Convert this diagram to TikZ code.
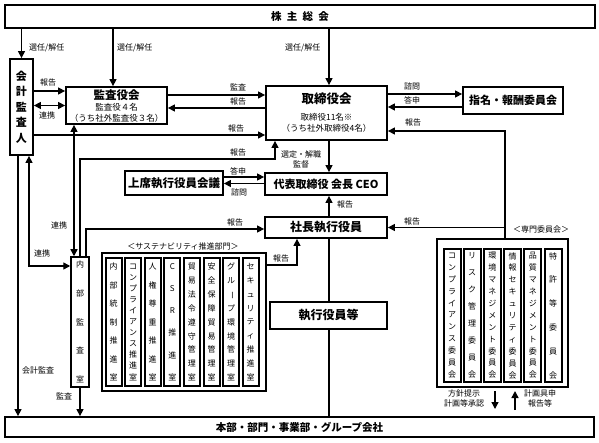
\documentclass[tikz,border=0pt]{standalone}
\usepackage{fontspec}
\setmainfont{Noto Sans CJK JP}
\usetikzlibrary{arrows.meta}
\begin{document}
\begin{tikzpicture}[x=1pt,y=-1pt,
  box/.style={draw, line width=1.8pt, inner sep=0pt, align=center, font=\bfseries\fontsize{11}{12}\selectfont},
  cont/.style={draw, line width=1.2pt, inner sep=0pt},
  col/.style={draw, line width=2pt, inner sep=0pt, align=center},
  colS/.style={col, minimum width=16pt, minimum height=128pt, font=\fontsize{8}{#1}\selectfont},
  colC/.style={col, minimum width=17pt, minimum height=133pt, font=\fontsize{8}{#1}\selectfont},
  lab/.style={inner sep=0pt, align=center, font=\fontsize{8}{10}\selectfont},
  arr/.style={line width=1.4pt, -{Triangle[length=7pt,width=7pt]}},
  darr/.style={line width=1.4pt, {Triangle[length=7pt,width=7pt]}-{Triangle[length=7pt,width=7pt]}},
  ln/.style={line width=1.4pt}
]
\fill[white] (0,0) rectangle (599,443);
\useasboundingbox (0,0) rectangle (599,443);

% main boxes
\node[box, minimum width=590pt, minimum height=23pt, font=\bfseries\fontsize{10.5}{12}\selectfont] (shu) at (300,16.5) {株\hspace{0.5em}主\hspace{0.5em}総\hspace{0.5em}会};
\node[box, minimum width=23pt, minimum height=96pt, font=\bfseries\fontsize{11}{15.5}\selectfont] (kaikei) at (21.5,107) {会\\計\\監\\査\\人};
\node[box, minimum width=101pt, minimum height=37pt, font=\fontsize{8.5}{11}\selectfont] (kansa) at (116.5,105.5)
  {{\bfseries\fontsize{11.5}{11}\selectfont 監査役会}\\監査役４名\\（うち社外監査役３名）};
\node[box, minimum width=121pt, minimum height=54pt, font=\fontsize{8.5}{11}\selectfont] (tori) at (326.5,113)
  {{\bfseries\fontsize{12.5}{11}\selectfont 取締役会}\\[6pt]取締役11名※\\（うち社外取締役4名）};
\node[box, minimum width=100pt, minimum height=27pt, font=\bfseries\fontsize{11}{12}\selectfont] (shimei) at (513,100.5) {指名・報酬委員会};
\node[box, minimum width=98pt, minimum height=24pt, font=\bfseries\fontsize{11.5}{12}\selectfont] (joseki) at (174,183) {上席執行役員会議};
\node[box, minimum width=122pt, minimum height=22pt, font=\bfseries\fontsize{11}{12}\selectfont] (daihyo) at (326,184) {代表取締役 会長 CEO};
\node[box, minimum width=122pt, minimum height=21pt, font=\bfseries\fontsize{12}{12}\selectfont] (shacho) at (326,227.5) {社長執行役員};
\node[box, minimum width=117pt, minimum height=27pt, font=\bfseries\fontsize{12}{12}\selectfont] (shikko) at (328.5,315.5) {執行役員等};
\node[box, minimum width=589pt, minimum height=20pt, font=\bfseries\fontsize{10.5}{12}\selectfont] (honbu) at (299.5,427) {本部・部門・事業部・グループ会社};
\node[box, line width=1.5pt, minimum width=18pt, minimum height=130pt, font=\fontsize{8}{28.75}\selectfont] (naibu) at (80,322) {内\\部\\監\\査\\室};

% containers
\node[cont, minimum width=164pt, minimum height=138pt] (sus) at (184,322) {};
\node[cont, minimum width=131pt, minimum height=148pt] (sen) at (502.5,313) {};
\node[lab] (lsus) at (183,246) {＜サステナビリティ推進部門＞};
\node[lab] (lsen) at (541,229) {＜専門委員会＞};

% sustainability columns
\node[colS=18.5] (s1) at (113.5,322) {内\\部\\統\\制\\推\\進\\室};
\node[colS=11.1] (s2) at (133.1,322) {コ\\ン\\プ\\ラ\\イ\\ア\\ン\\ス\\推\\進\\室};
\node[colS=18.5] (s3) at (152.7,322) {人\\権\\尊\\重\\推\\進\\室};
\node[colS=22.2] (s4) at (172.3,322) {C\\S\\R\\推\\進\\室};
\node[colS=13.875] (s5) at (191.9,322) {貿\\易\\法\\令\\遵\\守\\管\\理\\室};
\node[colS=13.875] (s6) at (211.5,322) {安\\全\\保\\障\\貿\\易\\管\\理\\室};
\node[colS=13.875] (s7) at (231.1,322) {グ\\ル\\\rotatebox[origin=c]{-90}{ー}\\プ\\環\\境\\管\\理\\室};
\node[colS=13.875] (s8) at (250.7,322) {セ\\キ\\ュ\\リ\\テ\\ィ\\推\\進\\室};

% committee columns
\node[colC=11.9] (c1) at (452,315.5) {コ\\ン\\プ\\ラ\\イ\\ア\\ン\\ス\\委\\員\\会};
\node[colC=17] (c2) at (472.2,315.5) {リ\\ス\\ク\\管\\理\\委\\員\\会};
\node[colC=11.9] (c3) at (492.4,315.5) {環\\境\\マ\\ネ\\ジ\\メ\\ン\\ト\\委\\員\\会};
\node[colC=11.9] (c4) at (512.6,315.5) {情\\報\\セ\\キ\\ュ\\リ\\テ\\ィ\\委\\員\\会};
\node[colC=11.9] (c5) at (532.8,315.5) {品\\質\\マ\\ネ\\ジ\\メ\\ン\\ト\\委\\員\\会};
\node[colC=23.8] (c6) at (553,315.5) {特\\許\\等\\委\\員\\会};

% connectors from shareholders
\draw[arr] (kaikei.north |- shu.south) -- (kaikei.north);
\draw[arr] ([xshift=-3.5pt]kansa.north |- shu.south) -- ([xshift=-3.5pt]kansa.north);
\draw[arr] ([xshift=2.5pt]tori.north |- shu.south) -- ([xshift=2.5pt]tori.north);
\node[lab, anchor=west] (l1) at (29,48) {選任/解任};
\node[lab, anchor=west] (l2) at (117,48) {選任/解任};
\node[lab, anchor=west] (l3) at (285,48) {選任/解任};

% auditor <-> audit board
\draw[arr] ([yshift=14.5pt]kansa.west -| kaikei.east) -- ([yshift=14.5pt]kansa.west);
\draw[darr] (kaikei.east |- kansa.west) -- (kansa.west);
\node[lab] (l4) at (48,82) {報告};
\node[lab] (l5) at (47,115) {連携};

% auditor -> board
\draw[arr] ([yshift=-22pt]tori.west -| kaikei.east) -- ([yshift=-22pt]tori.west);
\node[lab] (l6) at (236,128) {報告};

% audit board <-> board
\draw[arr] ([yshift=10.5pt]kansa.east) -- ([yshift=10.5pt]kansa.east -| tori.west);
\draw[arr] ([yshift=-2.5pt]kansa.east -| tori.west) -- ([yshift=-2.5pt]kansa.east);
\node[lab] (l7) at (238,87) {監査};
\node[lab] (l8) at (238,101) {報告};

% board <-> nomination
\draw[arr] ([yshift=6.5pt]shimei.west -| tori.east) -- ([yshift=6.5pt]shimei.west);
\draw[arr] ([yshift=-6.5pt]shimei.west) -- ([yshift=-6.5pt]shimei.west -| tori.east);
\node[lab] (l9) at (412,86) {諮問};
\node[lab] (l10) at (412,100) {答申};

% committees -> board, president
\draw[arr] ([xshift=2.5pt]sen.north) |- ([yshift=-18pt]tori.east);
\draw[arr] ([xshift=2.5pt]sen.north |- shacho.east) -- (shacho.east);
\node[lab] (l11) at (413,122) {報告};
\node[lab] (l12) at (412,221) {報告};

% board -> CEO
\draw[arr] ([xshift=2.5pt]tori.south) -- ([xshift=2.5pt]tori.south |- daihyo.north);
\node[lab] (l13) at (301,159) {選定・解職\\監督};

% senior meeting <-> CEO
\draw[arr] ([yshift=7pt]daihyo.west -| joseki.east) -- ([yshift=7pt]daihyo.west);
\draw[arr] ([yshift=0.5pt]daihyo.west) -- ([yshift=0.5pt]daihyo.west -| joseki.east);
\node[lab] (l14) at (238,171) {答申};
\node[lab] (l15) at (239,192) {諮問};

% president -> CEO
\draw[arr] ([xshift=3pt]shacho.north) -- ([xshift=3pt]shacho.north |- daihyo.south);
\node[lab] (l16) at (345,204) {報告};

% internal audit links
\draw[darr] ([xshift=-6pt]naibu.north |- kansa.south) -- ([xshift=-6pt]naibu.north);
\node[lab] (l17) at (59,225) {連携};
\draw[arr] (naibu.north) |- ([xshift=-51.5pt,yshift=-18pt]tori.south) -- ([xshift=-51.5pt]tori.south);
\node[lab] (l18) at (238,152) {報告};
\draw[arr] ([xshift=6pt]naibu.north) |- ([yshift=-1.5pt]shacho.west);
\node[lab] (l19) at (235,222) {報告};
\draw[darr] ([xshift=7.5pt]kaikei.south) |- ([yshift=56pt]naibu.west);
\node[lab] (l20) at (42,253) {連携};

% sustainability -> president
\draw[arr] ([yshift=57pt]sus.east) -| ([xshift=-29pt]shacho.south);
\node[lab] (l21) at (281,258) {報告};

% president -- executives -- divisions
\draw[ln] ([xshift=3pt]shacho.south) -- ([xshift=3pt]shacho.south |- shikko.north);
\draw[ln] ([xshift=3pt]shacho.south |- shikko.south) -- ([xshift=3pt]shacho.south |- honbu.north);

% audits down to divisions
\draw[arr] ([xshift=-3.5pt]kaikei.south) -- ([xshift=-3.5pt]kaikei.south |- honbu.north);
\node[lab] (l22) at (38,370) {会計監査};
\draw[arr] (naibu.south) -- (naibu.south |- honbu.north);
\node[lab] (l23) at (64,396) {監査};

% committee arrows
\coordinate (p1) at (495,391);
\coordinate (p2) at (495,409);
\coordinate (q1) at (515,410);
\coordinate (q2) at (515,391);
\draw[arr] (p1) -- (p2);
\draw[arr] (q1) -- (q2);
\node[lab] (l24) at (464,398) {方針提示\\計画等承認};
\node[lab] (l25) at (540,398) {計画具申\\報告等};
\end{tikzpicture}
\end{document}
